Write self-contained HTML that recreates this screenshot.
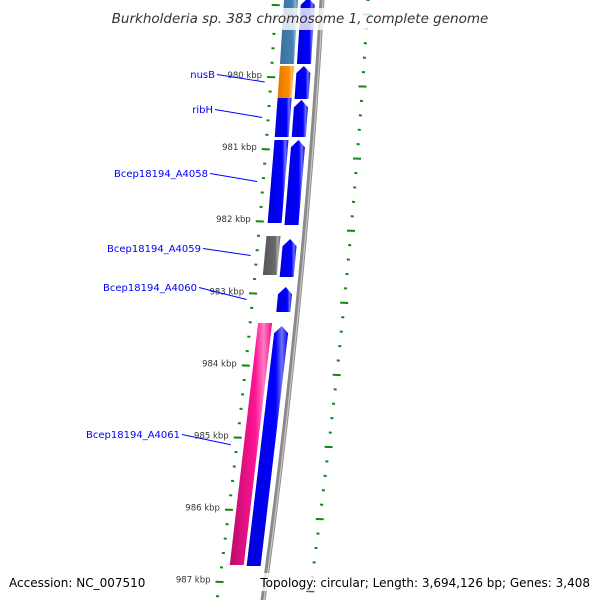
<!DOCTYPE html>
<html><head><meta charset="utf-8"><style>
html,body{margin:0;padding:0;background:#fff}
svg{display:block}
</style></head><body>
<svg id="chart" width="600" height="600" viewBox="0 0 600 600" xmlns="http://www.w3.org/2000/svg">
<defs>
<linearGradient id="gblue" x1="0" x2="1"><stop offset="0" stop-color="#0000d8"/><stop offset="0.7" stop-color="#0000ff"/><stop offset="0.85" stop-color="#7070ff"/><stop offset="1" stop-color="#0000e0"/></linearGradient>
<linearGradient id="gsteel" x1="0" x2="1"><stop offset="0" stop-color="#3a6f9c"/><stop offset="0.7" stop-color="#4682b4"/><stop offset="0.85" stop-color="#8fb4d4"/><stop offset="1" stop-color="#3f78a8"/></linearGradient>
<linearGradient id="gorange" x1="0" x2="1"><stop offset="0" stop-color="#e07a00"/><stop offset="0.7" stop-color="#ff8c00"/><stop offset="0.85" stop-color="#ffc070"/><stop offset="1" stop-color="#f08400"/></linearGradient>
<linearGradient id="ggray" x1="0" x2="1"><stop offset="0" stop-color="#555"/><stop offset="0.7" stop-color="#696969"/><stop offset="0.85" stop-color="#aaa"/><stop offset="1" stop-color="#606060"/></linearGradient>
<linearGradient id="gpink" x1="0" x2="1"><stop offset="0" stop-color="#b80c6c"/><stop offset="0.6" stop-color="#ff1493"/><stop offset="0.8" stop-color="#ff7cc4"/><stop offset="1" stop-color="#e81088"/></linearGradient>
</defs>
<g id="ticks-left"></g>
<g id="ticks-right"></g>
<g id="backbone"></g>
<g id="features"></g>
<g id="labels"></g>
<rect x="105" y="8" width="390" height="22" fill="#fff" opacity="0.8"/>
<text x="300" y="23" text-anchor="middle" font-family="'DejaVu Sans','Liberation Sans',sans-serif" font-style="italic" font-size="13.5" fill="#333">Burkholderia sp. 383 chromosome 1, complete genome</text>
<rect x="4" y="573" width="145" height="18" fill="#fff" opacity="0.8"/>
<text x="9" y="587" font-family="'DejaVu Sans','Liberation Sans',sans-serif" font-size="12" fill="#000">Accession: NC_007510</text>
<rect x="257" y="573" width="338" height="18" fill="#fff" opacity="0.8"/>
<text x="590" y="587" text-anchor="end" font-family="'DejaVu Sans','Liberation Sans',sans-serif" font-size="12" fill="#000">Topology: circular; Length: 3,694,126 bp; Genes: 3,408</text>
</svg>
<script>
const featStart = [978900, 979847, 980291, 980874, 982205, 983412, 978900, 979847, 980319, 980874, 982247, 982913, 983454];
const featEnd   = [979820, 980291, 980832, 982025, 982746, 986768, 979820, 980305, 980832, 982053, 982774, 983259, 986782];
const featStrand = [-1, -1, -1, -1, -1, -1, 1, 1, 1, 1, 1, 1, 1];
const featColor = ['gsteel','gorange','gblue','gblue','ggray','gpink','gblue','gblue','gblue','gblue','gblue','gblue','gblue'];
const geneNames = ['nusB','ribH','Bcep18194_A4058','Bcep18194_A4059','Bcep18194_A4060','Bcep18194_A4061'];
const geneMid = [980069, 980561, 981450, 982476, 983086, 985100];
const tickLabels = ['980 kbp','981 kbp','982 kbp','983 kbp','984 kbp','985 kbp','986 kbp','987 kbp'];
const tickValues = [980000,981000,982000,983000,984000,985000,986000,987000];

const NS='http://www.w3.org/2000/svg';
function yOf(bp){return 77+(bp-980000)*0.0721;}
function bx(y){return 322-0.0587*y-6.6e-5*y*y;}
function pt(bp,off){const y=yOf(bp);return [bx(y)+off,y];}
function mk(tag,attrs,parent){const e=document.createElementNS(NS,tag);for(const k in attrs)e.setAttribute(k,attrs[k]);parent.appendChild(e);return e;}

// backbone
const bb=document.getElementById('backbone');
let pts=[];for(let y=-5;y<=605;y+=10)pts.push([bx(y),y].join(','));
const b1=mk('polyline',{points:pts.join(' '),fill:'none',stroke:'#8a8a8a','stroke-width':5},bb);


const b2=mk('polyline',{points:pts.map(p=>{const[a,b]=p.split(',');return (+a+1)+','+b;}).join(' '),fill:'none',stroke:'#c8c8c8','stroke-width':1.2},bb);



// ticks
const tl=document.getElementById('ticks-left'),tr=document.getElementById('ticks-right');
for(let bp=978800;bp<=987400;bp+=200){
  const major=(bp%1000===0);
  const [x,y]=pt(bp,-46);
  const len=major?8:3;
  const t=mk('line',{x1:x-len/2,y1:y,x2:x+len/2,y2:y+0.3,stroke:'#118811','stroke-width':2},tl);
  
  
  const [x2,y2]=pt(bp+130,46);
  const len2=major?8:3;
  const t2=mk('line',{x1:x2-len2/2,y1:y2,x2:x2+len2/2,y2:y2+0.3,stroke:'#118811','stroke-width':2},tr);
  
  
}
for(let i=0;i<tickValues.length;i++){
  const [x,y]=pt(tickValues[i],-46);
  const t=mk('text',{x:x-9,y:y+1,'text-anchor':'end','font-family':"'DejaVu Sans','Liberation Sans',sans-serif",'font-size':8.5,fill:'#333'},tl);
  t.textContent=tickLabels[i];
  
  
}

// features
const fg=document.getElementById('features');
for(let i=0;i<featStart.length;i++){
  const o1=featStrand[i]<0?-38:-21, o2=featStrand[i]<0?-24:-7;
  const s=featStart[i],e=featEnd[i];
  const a=pt(s,o1),b=pt(s,o2),c=pt(e,o2),d=pt(e,o1);
  let p;
  if(featStrand[i]>0){
    const h=pt(s,(o1+o2)/2), ah=pt(s+100,o2), al=pt(s+100,o1);
    h[1]-=1;
    p=[[h[0],h[1]-0],ah,c,d,al];
    p=[[h[0],yOf(s)],ah,c,d,al];
  } else p=[a,b,c,d];
  const poly=mk('polygon',{points:p.map(q=>q.join(',')).join(' '),fill:'url(#'+featColor[i]+')'},fg);
  
  
}

// labels
const lg=document.getElementById('labels');
const labelRight=[215,213,208,201,197,180];
const labelY=[75,110,174,249,288,435];
for(let i=0;i<geneNames.length;i++){
  const [x,y]=pt(geneMid[i],-52);
  const ln=mk('line',{x1:labelRight[i]+2,y1:labelY[i]-0.5,x2:x,y2:y,stroke:'#0000ff','stroke-width':1},lg);
  
  
  const t=mk('text',{x:labelRight[i],y:labelY[i]+3,'text-anchor':'end','font-family':"'DejaVu Sans','Liberation Sans',sans-serif",'font-size':10,fill:'#0000ff'},lg);
  t.textContent=geneNames[i];
  
  
}
</script>
</body></html>
